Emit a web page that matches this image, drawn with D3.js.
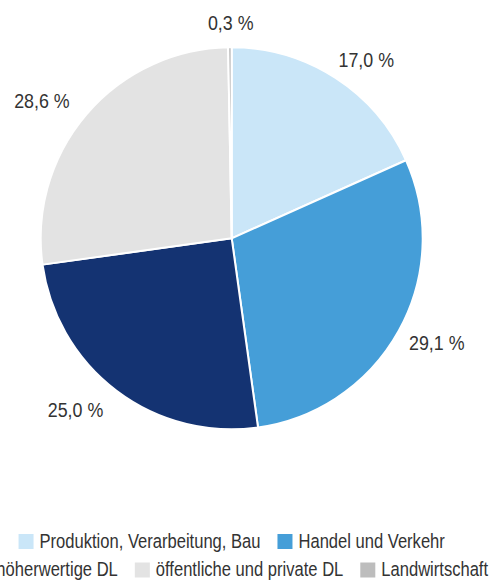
<!DOCTYPE html>
<html>
<head>
<meta charset="utf-8">
<script src="https://cdn.jsdelivr.net/npm/d3@7"></script>
<style>
  html, body { margin: 0; padding: 0; background: #ffffff; overflow: hidden; }
  svg { display: block; }
  text { font-family: "Liberation Sans", Arial, sans-serif; fill: #333333; }
</style>
</head>
<body>
<svg id="chart" width="497" height="581"></svg>
<script>
const categories = ["Produktion, Verarbeitung, Bau", "Handel und Verkehr", "höherwertige DL", "öffentliche und private DL", "Landwirtschaft"];
const values = [18.3, 29.5, 25.0, 26.9, 0.3];
const labels = ["17,0 %", "29,1 %", "25,0 %", "28,6 %", "0,3 %"];
const colors = ["#cae6f8", "#459ed8", "#143372", "#e3e3e3", "#bdbdbd"];

const svg = d3.select("#chart");
const cx = 231.7, cy = 238.3, r = 191;
const sx = 0.85; // horizontal condensing of the font

const pie = d3.pie().sort(null).value(d => d.value);
const data = categories.map((c, i) => ({ cat: c, value: values[i], label: labels[i], color: colors[i] }));
const arcs = pie(data);
const arc = d3.arc().innerRadius(0).outerRadius(r);

const g = svg.append("g").attr("transform", `translate(${cx},${cy})`);
g.selectAll("path.slice").data(arcs).join("path")
  .attr("class", "slice")
  .attr("d", arc)
  .attr("fill", d => d.data.color)
  .attr("stroke", "#ffffff")
  .attr("stroke-width", 2)
  .attr("stroke-linejoin", "round");

const labelR = 213;
g.selectAll("g.lbl").data(arcs).join("g")
  .attr("class", "lbl")
  .each(function(d) {
    const a = (d.startAngle + d.endAngle) / 2;
    const x = labelR * Math.sin(a), y = -labelR * Math.cos(a);
    const s = Math.sin(a);
    const anchor = Math.abs(s) < 0.15 ? "middle" : (s > 0 ? "start" : "end");
    const dx = anchor === "start" ? -9 : (anchor === "end" ? 0 : 1);
    const dy = Math.abs(s) < 0.15 ? -3 : (Math.cos(a) < 0 ? 1 : 0);
    d3.select(this)
      .attr("transform", `translate(${x + dx},${y + dy}) scale(${sx},1)`)
      .append("text")
      .attr("text-anchor", anchor)
      .attr("dominant-baseline", "central")
      .attr("font-size", 21)
      .text(d.data.label);
  });

// Legend
const rows = [[0, 1], [2, 3, 4]];
const rowY = [541.5, 570];
const sq = 15, sqGap = 6, itemGap = 17, fs = 19.5;
rows.forEach((row, ri) => {
  const lg = svg.append("g");
  const items = row.map(i => {
    const item = lg.append("g");
    item.append("rect").attr("width", sq).attr("height", sq).attr("y", -sq / 2).attr("fill", colors[i]);
    const t = item.append("text")
      .attr("transform", `translate(${sq + sqGap},0) scale(${sx},1)`)
      .attr("dominant-baseline", "central").attr("font-size", fs).text(categories[i]);
    const w = sq + sqGap + t.node().getComputedTextLength() * sx;
    return { item, w };
  });
  const total = d3.sum(items, d => d.w) + itemGap * (items.length - 1);
  let x = cx - total / 2;
  items.forEach(it => {
    it.item.attr("transform", `translate(${x},${rowY[ri]})`);
    x += it.w + itemGap;
  });
});
</script>
</body>
</html>
